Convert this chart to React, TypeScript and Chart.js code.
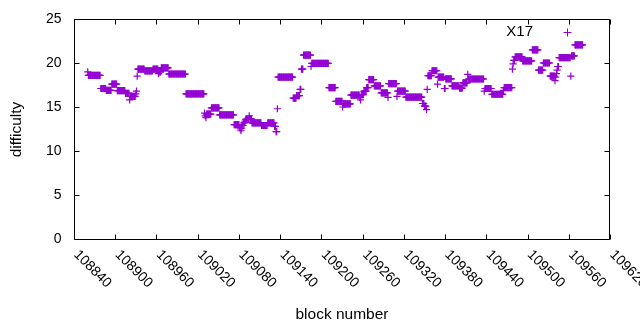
import { useEffect, useRef } from "react";
import { Chart, registerables } from "chart.js";

Chart.register(...registerables);

const X_MIN = 108840;
const X_MAX = 109620;
const Y_MIN = 0;
const Y_MAX = 25;
const xTickValues = [108840, 108900, 108960, 109020, 109080, 109140, 109200, 109260, 109320, 109380, 109440, 109500, 109560, 109620];
const yTickValues = [0, 5, 10, 15, 20, 25];
const xTitle = "block number";
const yTitle = "difficulty";
const seriesLabel = "X17";

// difficulty is constant over runs of consecutive blocks: start block of each run and its value
const runStartBlock = [
  108860, 108861, 108879, 108887, 108895, 108903, 108915, 108921, 108922, 108930,
  108931, 108932, 108933, 108943, 108955, 108963, 108964, 108967, 108978, 109003,
  109030, 109031, 109032, 109033, 109040, 109052, 109073, 109081, 109082, 109083,
  109084, 109085, 109087, 109089, 109090, 109095, 109096, 109099, 109113, 109122,
  109132, 109134, 109136, 109137, 109159, 109164, 109169, 109171, 109174, 109185,
  109186, 109211, 109221, 109231, 109232, 109243, 109256, 109257, 109258, 109262,
  109266, 109269, 109277, 109287, 109297, 109298, 109310, 109311, 109323, 109347,
  109350, 109353, 109354, 109355, 109361, 109369, 109370, 109379, 109381, 109390,
  109401, 109406, 109413, 109414, 109437, 109438, 109448, 109465, 109466, 109478,
  109479, 109480, 109482, 109493, 109507, 109516, 109523, 109533, 109540, 109541,
  109542, 109543, 109544, 109546, 109563, 109564, 109569,
];
const runDifficulty = [
  19.0, 18.6, 17.1, 16.9, 17.6, 16.85, 16.55, 15.8, 16.2, 16.5,
  16.8, 18.5, 19.3, 19.1, 19.3, 18.8, 19.0, 19.45, 18.75, 16.5,
  14.3, 14.0, 13.8, 14.2, 14.9, 14.1, 13.0, 12.7, 12.5, 12.3,
  12.6, 12.9, 13.2, 13.4, 13.6, 14.0, 13.65, 13.2, 12.9, 13.2,
  12.8, 12.2, 14.8, 18.4, 16.0, 16.3, 17.0, 19.3, 20.9, 19.6,
  19.95, 17.2, 15.65, 15.0, 15.35, 16.35, 16.1, 15.8, 16.4, 16.8,
  17.2, 18.1, 17.4, 16.6, 16.1, 17.65, 16.2, 16.8, 16.13, 15.4,
  15.1, 14.7, 17.0, 18.55, 19.12, 17.6, 18.4, 17.1, 18.2, 17.4,
  17.15, 17.75, 18.7, 18.18, 16.8, 17.1, 16.45, 16.9, 17.2, 19.3,
  19.9, 20.3, 20.7, 20.25, 21.5, 19.2, 20.0, 18.5, 18.0, 18.4,
  18.8, 19.2, 19.6, 20.6, 18.5, 20.8, 22.05,
];
const lastBlock = 109580;

const PURPLE = "#9400D3";
const FONT = "'Liberation Sans', Arial, sans-serif";

function buildPoints() {
  const pts: { x: number; y: number }[] = [];
  for (let i = 0; i < runStartBlock.length; i++) {
    const end = i + 1 < runStartBlock.length ? runStartBlock[i + 1] - 1 : lastBlock;
    for (let b = runStartBlock[i]; b <= end; b++) pts.push({ x: b, y: runDifficulty[i] });
  }
  return pts;
}

const framePlugin = {
  id: "gnuframe",
  afterDraw(chart: any) {
    const { ctx, chartArea } = chart;
    const xs = chart.scales.x;
    const ys = chart.scales.y;
    const L = Math.round(chartArea.left) + 0.5;
    const R = Math.round(chartArea.right) - 0.5;
    const T = Math.round(chartArea.top) + 0.5;
    const B = Math.round(chartArea.bottom) + 0.5;
    ctx.save();
    ctx.strokeStyle = "#000";
    ctx.lineWidth = 1;
    ctx.beginPath();
    ctx.rect(L, T, R - L, B - T);
    const tl = 5;
    for (const v of yTickValues) {
      const py = Math.round(ys.getPixelForValue(v)) + 0.5;
      ctx.moveTo(L, py); ctx.lineTo(L + tl, py);
      ctx.moveTo(R, py); ctx.lineTo(R - tl, py);
    }
    for (const v of xTickValues) {
      const px = Math.round(xs.getPixelForValue(v)) + 0.5;
      ctx.moveTo(px, B); ctx.lineTo(px, B - tl);
      ctx.moveTo(px, T); ctx.lineTo(px, T + tl);
    }
    ctx.stroke();

    ctx.fillStyle = "#000";
    ctx.font = `14px ${FONT}`;
    ctx.textAlign = "right";
    ctx.textBaseline = "middle";
    for (const v of yTickValues) {
      ctx.fillText(String(v), L - 13, ys.getPixelForValue(v));
    }
    ctx.textAlign = "left";
    for (const v of xTickValues) {
      const px = xs.getPixelForValue(v);
      ctx.save();
      ctx.translate(px + 2, B + 13);
      ctx.rotate(Math.PI / 4);
      ctx.fillText(String(v), 0, 0);
      ctx.restore();
    }

    ctx.font = `15.5px ${FONT}`;
    ctx.textAlign = "center";
    ctx.fillText(xTitle, (L + R) / 2, 315);
    ctx.save();
    ctx.translate(17, (T + B) / 2);
    ctx.rotate(-Math.PI / 2);
    ctx.fillText(yTitle, 0, 0);
    ctx.restore();

    ctx.font = `15px ${FONT}`;
    ctx.textAlign = "right";
    ctx.fillText(seriesLabel, 533, 32);
    ctx.strokeStyle = PURPLE;
    ctx.beginPath();
    ctx.moveTo(563.5, 32.5); ctx.lineTo(571.5, 32.5);
    ctx.moveTo(567.5, 28.5); ctx.lineTo(567.5, 36.5);
    ctx.stroke();
    ctx.restore();
  },
};

export default function App() {
  const ref = useRef<HTMLCanvasElement | null>(null);
  useEffect(() => {
    if (!ref.current) return;
    const chart = new Chart(ref.current, {
      type: "scatter",
      data: {
        datasets: [
          {
            label: seriesLabel,
            data: buildPoints(),
            pointStyle: "cross",
            pointRadius: 3.6,
            pointHoverRadius: 3.6,
            borderColor: PURPLE,
            backgroundColor: PURPLE,
            borderWidth: 1.2,
            showLine: false,
          },
        ],
      },
      options: {
        responsive: false,
        devicePixelRatio: 1,
        animation: false,
        events: [],
        layout: { padding: { left: 74, right: 30, top: 19, bottom: 91 } },
        plugins: { legend: { display: false }, tooltip: { enabled: false } },
        scales: {
          x: { type: "linear", min: X_MIN, max: X_MAX, display: false },
          y: { type: "linear", min: Y_MIN, max: Y_MAX, display: false },
        },
      },
      plugins: [framePlugin],
    });
    return () => chart.destroy();
  }, []);
  return (
    <div style={{ position: "fixed", left: 0, top: 0, width: 640, height: 330, background: "#fff" }}>
      <canvas ref={ref} width={640} height={330} />
    </div>
  );
}
